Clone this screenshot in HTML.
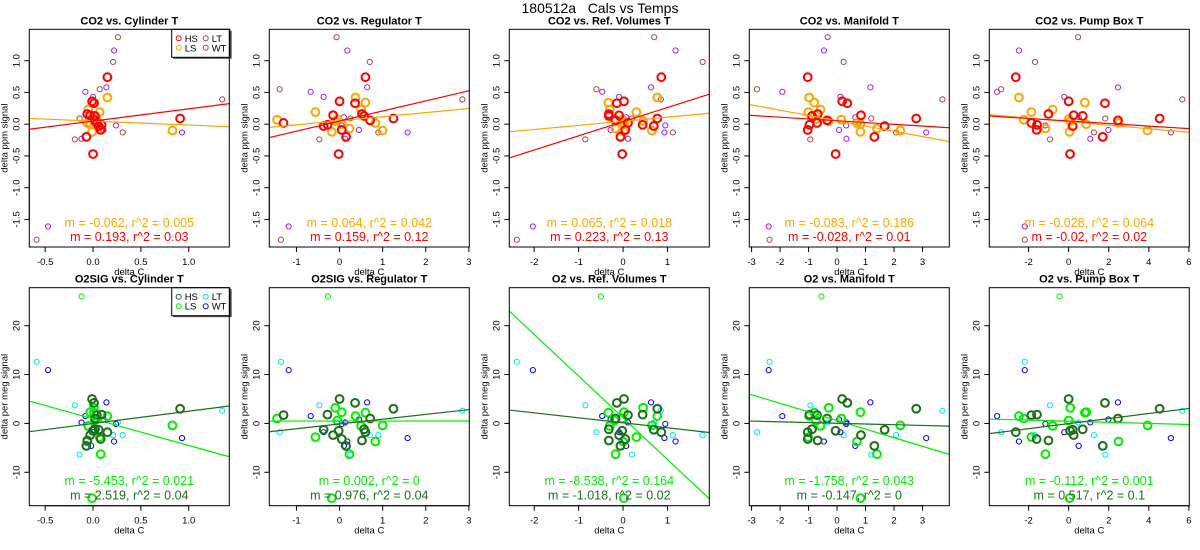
<!DOCTYPE html>
<html><head><meta charset="utf-8"><style>
body{margin:0;background:#fff;font-family:"Liberation Sans",sans-serif}
svg{display:block}
</style></head><body>
<svg id="c" width="1200" height="550" xmlns="http://www.w3.org/2000/svg">
<text x="600" y="13" text-anchor="middle" font-size="14" font-family="Liberation Sans, sans-serif" style="white-space:pre">180512a   Cals vs Temps</text>
</svg>
<script>
// ---- data ----
const colTitlesTop = ["CO2 vs. Cylinder T","CO2 vs. Regulator T","CO2 vs. Ref. Volumes T","CO2 vs. Manifold T","CO2 vs. Pump Box T"];
const colTitlesBot = ["O2SIG vs. Cylinder T","O2SIG vs. Regulator T","O2 vs. Ref. Volumes T","O2 vs. Manifold T","O2 vs. Pump Box T"];
const xMin = [-0.666,-1.63,-2.56,-3.08,-3.96];
const xMax = [1.424,3.01,1.94,3.94,6.02];
const xTicks = [[-0.5,0,0.5,1],[-1,0,1,2,3],[-2,-1,0,1],[-3,-2,-1,0,1,2,3],[-2,0,2,4,6]];
const xTickLabels = [["-0.5","0.0","0.5","1.0"],["-1","0","1","2","3"],["-2","-1","0","1"],["-3","-2","-1","0","1","2","3"],["-2","0","2","4","6"]];
const yTopTicks = [1,0.5,0,-0.5,-1,-1.5];
const yTopLabels = ["1.0","0.5","0.0","-0.5","-1.0","-1.5"];
const yBotTicks = [20,10,0,-10];
const yBotLabels = ["20","10","0","-10"];
// x values per column per series
const xLT = [[0.26,0.21,0.07,1.35,-0.14,0.31,-0.19,-0.59],[-0.07,0.70,-1.39,2.85,0.25,0.9,-0.47,-1.36],[0.7,1.79,-0.6,0.85,0.2,1.12,-0.85,-2.39],[-0.33,0.23,-2.81,3.7,1.2,2.07,-0.94,-2.37],[0.47,-1.68,-3.37,5.67,1.83,1.26,-0.93,-2.19]];
const xWT = [[0.22,0.14,-0.08,0,-0.02,0.24,0.11,0.93,-0.12,-0.47],[0.18,0.64,-0.67,-0.37,0.1,0.05,0.45,1.58,0.13,-1.18],[1.18,0.63,-0.47,-0.09,0.07,0.95,-0.28,0.93,0.11,-2.03],[-0.46,1.17,-1.92,0.12,0.64,0.32,0.07,3.13,0.33,-2.4],[-2.48,2.46,-3.57,-0.22,0.5,-1.16,1.98,5.1,1.08,-2.19]];
const xHS = [[0.15,-0.01,0.01,-0.06,-0.03,0.02,0.91,0.02,0.04,0.09,0.06,0.08,-0.07,0],[0.6,0,0.36,0.52,-0.15,0.57,1.25,0.71,-1.3,-0.28,-0.37,0.05,0.15,-0.02],[0.86,0.02,-0.14,-0.32,-0.09,-0.32,0.77,-0.17,0.11,0.44,0.69,0.05,-0.06,-0.02],[-1.03,0.18,0.36,-0.68,0.84,-0.88,2.78,-0.35,-0.7,-0.97,1.67,-1.03,1.31,-0.05],[-2.64,0,1.81,-1.01,0.25,0.7,4.54,2.46,-1.86,-1.58,0.2,-1.6,1.7,0.07]];
const xLS = [[0.15,0.01,-0.05,0.07,0.02,0.04,0.01,-0.06,-0.03,0.08,0.83,-0.01],[0.37,0.6,0.5,-0.56,-0.05,-1.45,-0.1,0.83,0.05,0.23,1.0,-0.18],[0.77,-0.33,-0.3,0.3,-0.19,-0.02,0.45,0.0,0.02,-0.17,0.65,0.02],[-0.98,-0.8,-0.58,-1.01,-0.74,0.15,-0.29,0.7,0.82,1.4,2.22,0.82],[-2.48,0.81,-0.8,-1.86,0,-2.24,0.08,2.49,0.88,-1.16,3.94,0.05]];
// CO2 y values per series
const yLT = [1.37,0.98,0.55,0.39,0.09,-0.13,-0.24,-1.82];
const yWT = [1.16,0.58,0.51,0.43,0.11,-0.02,-0.09,-0.13,-0.23,-1.61];
const yHS = [0.74,0.36,0.33,0.16,0.14,0.13,0.09,0.06,0.02,-0.01,-0.03,-0.09,-0.20,-0.47];
const yLS = [0.42,0.34,0.23,0.19,0.08,0.07,0.05,0.02,0,-0.07,-0.10,-0.12];
// O2 y values per series
const oLT = [0.2,-2.4,-1.8,2.6,-6.4,-2.4,3.7,12.6];
const oWT = [-3.7,4.3,1.5,-1.8,-4.6,-0.1,0.8,-3,0.2,10.9];
const oHS = [-1.8,5,4.2,-3.5,-2.4,-1.2,3,1,1.7,1.8,-1.3,-3.2,-4.6,-1.5];
const oLS = [1.5,2.2,-0.5,-2.8,0.6,1.0,3.2,-3.7,2.3,-6.3,-0.4,-15.3];
const outlierX = [-0.12,-0.27,-0.5,-0.55,-0.45];
const outlierY = 26;
// fits
const topHSslope=[0.193,0.159,0.223,-0.028,-0.02], topHSint=[0.049,0.049,0.04,0.054,0.05];
const topLSslope=[-0.062,0.064,0.065,-0.083,-0.028], topLSint=[0.049,0.054,0.046,0.054,0.04];
const botHSslope=[2.519,0.976,-1.018,-0.147,0.517], botHSint=[-0.02,-0.11,0.12,0.03,-0.05];
const botLSslope=[-5.453,0.002,-8.538,-1.758,-0.112], botLSint=[0.94,0.48,1.14,0.59,0.45];
const topLStext=["m = -0.062, r^2 = 0.005","m = 0.064, r^2 = 0.042","m = 0.065, r^2 = 0.018","m = -0.083, r^2 = 0.186","m = -0.028, r^2 = 0.064"];
const topHStext=["m = 0.193, r^2 = 0.03","m = 0.159, r^2 = 0.12","m = 0.223, r^2 = 0.13","m = -0.028, r^2 = 0.01","m = -0.02, r^2 = 0.02"];
const botLStext=["m = -5.453, r^2 = 0.021","m = 0.002, r^2 = 0","m = -8.538, r^2 = 0.164","m = -1.758, r^2 = 0.043","m = -0.112, r^2 = 0.001"];
const botHStext=["m = 2.519, r^2 = 0.04","m = 0.976, r^2 = 0.04","m = -1.018, r^2 = 0.02","m = -0.147, r^2 = 0","m = 0.517, r^2 = 0.1"];

const NS="http://www.w3.org/2000/svg";
const svg=document.getElementById('c');
function mk(tag,attrs,parent){const e=document.createElementNS(NS,tag);for(const k in attrs)e.setAttribute(k,attrs[k]);(parent||svg).appendChild(e);return e;}

const rows=[
 {top:29.3,bot:247,yMin:-1.934,yMax:1.494,ticks:yTopTicks,labels:yTopLabels,ylab:"delta ppm signal",titles:colTitlesTop,
  series:[{xs:xLT,ys:yLT,c:"#b04848",r:2.6,w:1,n:"lt"},{xs:xWT,ys:yWT,c:"#a020f0",r:2.6,w:1,n:"wt"},{xs:xLS,ys:yLS,c:"#ffa500",r:3.9,w:2,n:"ls"},{xs:xHS,ys:yHS,c:"#ff0000",r:3.9,w:2,n:"hs"}],
  fits:[{s:topLSslope,b:topLSint,c:"#ffa500"},{s:topHSslope,b:topHSint,c:"#ff0000"}],
  texts:[{t:topLStext,c:"#ffa500",y:227},{t:topHStext,c:"#ff0000",y:241}],
  leg:[["HS","#ff0000"],["LS","#ffa500"],["LT","#b04848"],["WT","#a020f0"]],pre:"co2"},
 {top:287.7,bot:505.7,yMin:-16.84,yMax:27.77,ticks:yBotTicks,labels:yBotLabels,ylab:"delta per meg signal",titles:colTitlesBot,
  series:[{xs:xLT,ys:oLT,c:"#00e5ee",r:2.6,w:1,n:"lt"},{xs:xWT,ys:oWT,c:"#0000ff",r:2.6,w:1,n:"wt"},{xs:xLS,ys:oLS,c:"#00ee00",r:3.9,w:2,n:"ls"},{xs:xHS,ys:oHS,c:"#1e6e1e",r:3.9,w:2,n:"hs"}],
  fits:[{s:botLSslope,b:botLSint,c:"#00ee00"},{s:botHSslope,b:botHSint,c:"#1e6e1e"}],
  texts:[{t:botLStext,c:"#00ee00",y:485},{t:botHStext,c:"#1e6e1e",y:499.5}],
  leg:[["HS","#1e6e1e"],["LS","#00ee00"],["LT","#00e5ee"],["WT","#0000ff"]],pre:"o2",outlier:true}
];

rows.forEach((R,ri)=>{
 for(let c=0;c<5;c++){
  const L=c*240+29.3, Rr=L+200;
  const sx=v=>L+(v-xMin[c])/(xMax[c]-xMin[c])*200;
  const sy=v=>R.bot-(v-R.yMin)/(R.yMax-R.yMin)*(R.bot-R.top);
  const g=mk('g',{});
  
  
  const cid='clip'+ri+c;
  const cp=mk('clipPath',{id:cid},g);mk('rect',{x:L,y:R.top,width:200,height:R.bot-R.top},cp);
  const t=mk('text',{x:L+100,y:R.top-5,'text-anchor':'middle','font-size':11,'font-weight':'bold'},g);
  t.textContent=R.titles[c];
  
  
  R.ticks.forEach((v,i)=>{
   const y=sy(v);
   mk('line',{x1:L-5,x2:L,y1:y,y2:y,stroke:'#000','stroke-width':1},g);
   const tl=mk('text',{x:L-10,y:y,'font-size':9.5,'text-anchor':'middle',transform:`rotate(-90 ${L-10} ${y})`},g);
   tl.textContent=R.labels[i];
   
   
  });
  mk('line',{x1:L,x2:L,y1:sy(R.ticks[R.ticks.length-1]),y2:sy(R.ticks[0]),stroke:'#000'},g);
  const yl=mk('text',{x:L-22,y:(R.top+R.bot)/2,'font-size':9.5,'text-anchor':'middle',transform:`rotate(-90 ${L-22} ${(R.top+R.bot)/2})`},g);
  yl.textContent=R.ylab;
  
  
  xTicks[c].forEach((v,i)=>{
   const x=sx(v);
   mk('line',{x1:x,x2:x,y1:R.bot,y2:R.bot+5,stroke:'#000'},g);
   const tl=mk('text',{x:x,y:R.bot+18,'font-size':9.5,'text-anchor':'middle'},g);
   tl.textContent=xTickLabels[c][i];
   
   
  });
  const xt=xTicks[c];
  mk('line',{x1:sx(xt[0]),x2:sx(xt[xt.length-1]),y1:R.bot,y2:R.bot,stroke:'#000'},g);
  const xl=mk('text',{x:L+100,y:R.bot+28,'font-size':9.5,'text-anchor':'middle'},g);
  xl.textContent="delta C";
  
  
  const pg=mk('g',{'clip-path':`url(#${cid})`},g);
  R.series.forEach(S=>{
   S.xs[c].forEach((xv,i)=>{
    const p=mk('circle',{cx:sx(xv),cy:sy(S.ys[i]),r:S.r,fill:'none',stroke:S.c,'stroke-width':S.w},pg);
    
    
   });
  });
  if(R.outlier){
   const p=mk('circle',{cx:sx(outlierX[c]),cy:sy(outlierY),r:2.6,fill:'none',stroke:'#00ee00','stroke-width':1},pg);
   
   
  }
  R.fits.forEach(F=>{
   const l=mk('line',{x1:L,x2:Rr,y1:sy(F.b[c]+F.s[c]*xMin[c]),y2:sy(F.b[c]+F.s[c]*xMax[c]),stroke:F.c,'stroke-width':1.2},pg);
   
   
  });
  R.texts.forEach(T=>{
   const a=mk('text',{x:L+100,y:T.y,'font-size':12.5,'text-anchor':'middle',fill:T.c},g);
   a.textContent=T.t[c];
   
   
  });
  if(c===0){
   const lg=mk('g',{},g);
   
   
   const lx=171.7, ly=R.top;
   mk('rect',{x:lx+1.5,y:ly+1.5,width:58.5,height:28,fill:'#555'},lg);
   mk('rect',{x:lx,y:ly,width:58,height:28,fill:'#fff',stroke:'#000'},lg);
   R.leg.forEach((e,i)=>{
    const col=Math.floor(i/2),row=i%2;
    const cx=lx+7+col*27, cy=ly+9+row*9.5;
    mk('circle',{cx:cx,cy:cy,r:2.5,fill:'none',stroke:e[1]},lg);
    const et=mk('text',{x:cx+6,y:cy+3.5,'font-size':9.5},lg);
    et.textContent=e[0];
    
    
   });
  }
  mk('rect',{x:L,y:R.top,width:200,height:R.bot-R.top,fill:'none',stroke:'#000','stroke-width':1},g);
 }
});
</script>
</body></html>
